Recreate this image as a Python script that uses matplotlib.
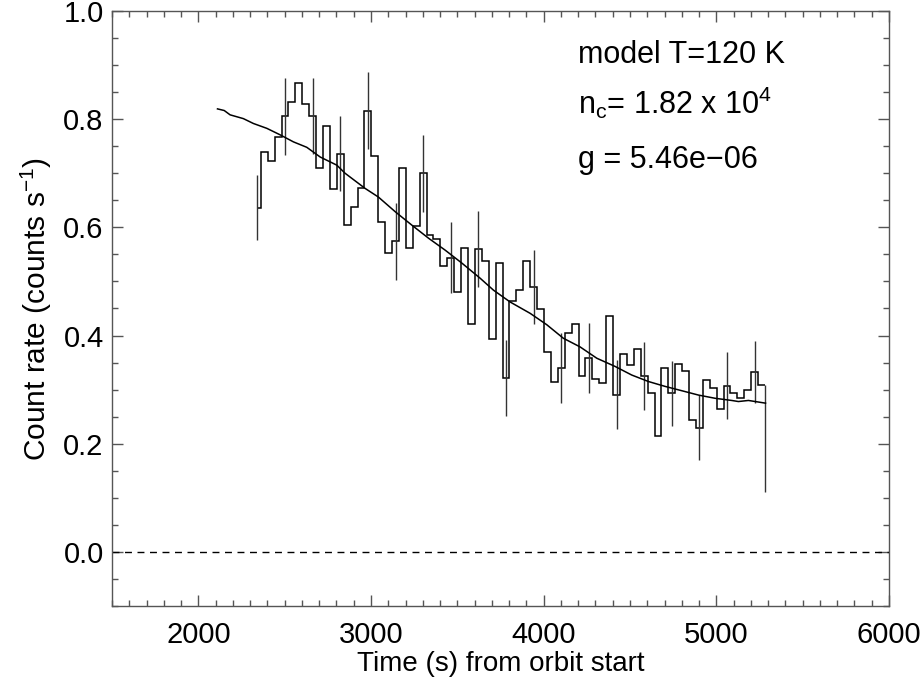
import numpy as np
import matplotlib
matplotlib.use('Agg')
import matplotlib.pyplot as plt
from matplotlib.ticker import MultipleLocator

plt.rcParams['font.family'] = ['Liberation Sans', 'DejaVu Sans']
plt.rcParams['mathtext.fontset'] = 'custom'
plt.rcParams['mathtext.rm'] = 'Liberation Sans'
plt.rcParams['mathtext.it'] = 'Liberation Sans'

# binned light curve (40 s bins, centres)
bin_start = 2342
bin_width = 40
count_rate = [0.636, 0.740, 0.723, 0.767, 0.805, 0.832, 0.866, 0.828, 0.806, 0.710,
              0.787, 0.671, 0.736, 0.604, 0.638, 0.672, 0.816, 0.731, 0.609, 0.553,
              0.574, 0.709, 0.561, 0.603, 0.700, 0.585, 0.578, 0.529, 0.544, 0.481,
              0.561, 0.421, 0.560, 0.537, 0.394, 0.534, 0.322, 0.463, 0.484, 0.538,
              0.490, 0.449, 0.370, 0.315, 0.340, 0.404, 0.421, 0.325, 0.358, 0.319,
              0.313, 0.436, 0.291, 0.365, 0.346, 0.375, 0.325, 0.293, 0.214, 0.340,
              0.293, 0.348, 0.335, 0.243, 0.230, 0.317, 0.303, 0.264, 0.307, 0.294,
              0.284, 0.299, 0.333, 0.309]

# error bars on every 4th bin (half length)
err_every = 4
err_half = [0.060, 0.072, 0.071, 0.069, 0.071, 0.071, 0.071, 0.065, 0.070, 0.070,
            0.068, 0.065, 0.065, 0.063, 0.063, 0.060, 0.061, 0.062, 0.057]
# last point: lower bar only
end_time = 5282
end_low = 0.111

# model curve
model_t = [2111, 2150, 2184, 2261, 2319, 2397, 2474, 2551, 2628, 2706, 2802, 2850,
           2966, 3043, 3140, 3237, 3333, 3429, 3526, 3632, 3709, 3806, 3922, 4018,
           4114, 4211, 4308, 4413, 4510, 4607, 4703, 4800, 4896, 4993, 5089, 5128,
           5186, 5285]
model_v = [0.819, 0.816, 0.808, 0.801, 0.792, 0.783, 0.771, 0.758, 0.748, 0.730,
           0.715, 0.700, 0.672, 0.656, 0.629, 0.604, 0.580, 0.558, 0.534, 0.506,
           0.484, 0.462, 0.441, 0.420, 0.395, 0.379, 0.358, 0.343, 0.327, 0.315,
           0.306, 0.298, 0.290, 0.284, 0.280, 0.278, 0.280, 0.275]

labels = ['model T=120 K', r'n$_\mathregular{c}$= 1.82 x 10$^\mathregular{4}$', 'g = 5.46e\u221206']
label_y = [0.919, 0.830, 0.725]

t = bin_start + bin_width * np.arange(len(count_rate))
edges = np.concatenate([[t[0]], t + bin_width / 2])
edges[-1] = end_time

fig = plt.figure(figsize=(9.24, 6.86), dpi=100)
ax = fig.add_axes([0.1212, 0.1166, 0.8409, 0.8674])

ax.stairs(count_rate, edges, baseline=None, color='black', lw=1.1)
et = t[::err_every]
ev = np.array(count_rate)[::err_every]
ax.vlines(et, ev - np.array(err_half), ev + np.array(err_half), color='#333333', lw=1.0)
ax.vlines([end_time], [end_low], [count_rate[-1]], color='#333333', lw=1.0)
ax.plot(model_t, model_v, color='black', lw=1.1)
ax.axhline(0.0, color='black', lw=1.0, ls=(0, (5, 4)))

ax.set_xlim(1500, 6000)
ax.xaxis.set_major_locator(MultipleLocator(1000))
ax.xaxis.set_minor_locator(MultipleLocator(100))
ax.yaxis.set_minor_locator(MultipleLocator(0.05))
ax.set_yticks([0.0, 0.2, 0.4, 0.6, 0.8, 1.0])
ax.set_yticklabels(['0.0', '0.2', '0.4', '0.6', '0.8', '1.0'])
ax.set_ylim(-0.1, 1.0)
ax.tick_params(which='both', direction='in', top=True, right=True, labelsize=21,
               color='#555555', width=1.0)
ax.tick_params(which='major', length=8)
ax.tick_params(which='minor', length=4)
ax.tick_params(axis='x', which='major', pad=11)
ax.tick_params(axis='y', which='major', pad=6)
for s in ax.spines.values():
    s.set_color('#555555')
    s.set_linewidth(1.0)

ax.set_xlabel('Time (s) from orbit start', fontsize=20, labelpad=1)
ax.set_ylabel(r'Count rate (counts s$^{\mathregular{-1}}$)', fontsize=21.5, labelpad=7)

for lbl, yv in zip(labels, label_y):
    ax.text(4200, yv, lbl, fontsize=22, va='center', ha='left')

fig.savefig('out.png', dpi=100)
